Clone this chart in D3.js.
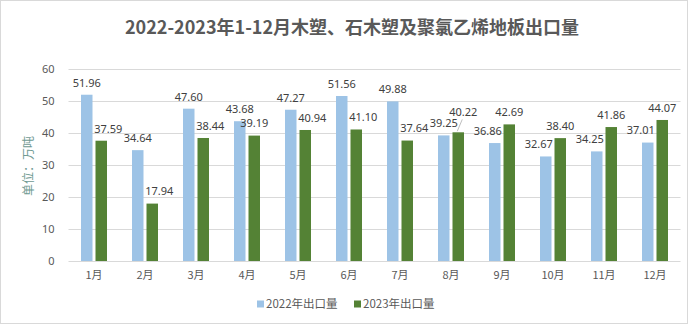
<!DOCTYPE html>
<html>
<head>
<meta charset="utf-8">
<script src="https://cdn.jsdelivr.net/npm/d3@7/dist/d3.min.js"></script>
<style>
  html, body { margin: 0; padding: 0; background: #fff; }
  svg { display: block; }
  text { font-family: "Noto Sans CJK SC", "Noto Sans", sans-serif; }
</style>
</head>
<body>
<svg id="chart" width="688" height="324"></svg>
<script>
// Monthly export volume (10k tonnes)
const months = ["1月","2月","3月","4月","5月","6月","7月","8月","9月","10月","11月","12月"];
const seriesNames = ["2022年出口量", "2023年出口量"];
const exports2022 = [51.96, 34.64, 47.60, 43.68, 47.27, 51.56, 49.88, 39.25, 36.86, 32.67, 34.25, 37.01];
const exports2023 = [37.59, 17.94, 38.44, 39.19, 40.94, 41.10, 37.64, 40.22, 42.69, 38.40, 41.86, 44.07];
const yTicks = [0, 10, 20, 30, 40, 50, 60];

const colors = ["#9dc3e6", "#548235"];
const W = 688, H = 324;
const plot = { left: 68.5, right: 680.5, top: 69, bottom: 261 };

const svg = d3.select("#chart");

// outer frame
svg.append("rect")
  .attr("x", 0.5).attr("y", 0.5)
  .attr("width", W - 1).attr("height", H - 1)
  .attr("fill", "#fff").attr("stroke", "#d9d9d9");

// title
svg.append("text")
  .attr("x", 352).attr("y", 34)
  .attr("text-anchor", "middle")
  .attr("font-size", 18).attr("font-weight", "bold")
  .attr("fill", "#595959")
  .text("2022-2023年1-12月木塑、石木塑及聚氯乙烯地板出口量");

const x = d3.scaleBand().domain(months)
  .range([plot.left, plot.right])
  .paddingInner(25 / 51).paddingOuter(25 / 102);
const xs = d3.scaleBand().domain(seriesNames)
  .range([0, x.bandwidth()])
  .paddingInner(3 / 14.5);
const y = d3.scaleLinear().domain([0, 60]).range([plot.bottom, plot.top]);

// gridlines + y tick labels
const yAxis = d3.axisLeft(y).tickValues(yTicks)
  .tickSize(-(plot.right - plot.left)).tickPadding(14);
const gy = svg.append("g").attr("transform", `translate(${plot.left},0)`).call(yAxis);
gy.select(".domain").remove();
gy.selectAll(".tick line").attr("stroke", "#d9d9d9");
gy.selectAll(".tick text").attr("font-size", 11).attr("fill", "#595959")
  .style("font-family", '"Noto Sans", sans-serif');

// x axis labels
const xAxis = d3.axisBottom(x).tickSize(0).tickPadding(10);
const gx = svg.append("g").attr("transform", `translate(0,${plot.bottom})`).call(xAxis);
gx.select(".domain").remove();
gx.selectAll(".tick text").attr("font-size", 11).attr("fill", "#595959");

// y axis title
svg.append("text")
  .attr("transform", "translate(33,166) rotate(-90)")
  .attr("text-anchor", "middle")
  .attr("font-size", 12).attr("fill", "#6f9a92")
  .text("单位：万吨");

// rows per month
const rows = months.map((m, i) => ({ month: m, vals: [exports2022[i], exports2023[i]] }));

const groups = svg.append("g").selectAll("g").data(rows).join("g")
  .attr("transform", d => `translate(${x(d.month)},0)`);

groups.selectAll("rect").data(d => d.vals.map((v, k) => ({ k, v }))).join("rect")
  .attr("x", d => xs(seriesNames[d.k]))
  .attr("width", xs.bandwidth())
  .attr("y", d => y(d.v))
  .attr("height", d => y(0) - y(d.v))
  .attr("fill", d => colors[d.k]);

// value labels: sit above each bar; the shorter bar's label moves outward
// when it would run into the taller neighbour, and labels that collide
// vertically are stacked with a leader line.
const labelGap = 12, labelShift = 7, stackGap = 11;
rows.forEach(row => {
  const g = groups.filter(d => d === row);
  const tall = row.vals[0] >= row.vals[1] ? 0 : 1;
  const short = 1 - tall;
  const pos = row.vals.map((v, k) => ({
    v,
    cx: xs(seriesNames[k]) + xs.bandwidth() / 2,
    cy: y(v) - labelGap
  }));
  const tallTop = y(row.vals[tall]);
  let leader = null;
  if (Math.abs(pos[0].cy - pos[1].cy) < stackGap) {
    pos[tall].cy = pos[short].cy - stackGap;
    leader = pos[tall];
  } else if (pos[short].cy - 5 > tallTop) {
    pos[short].cx += short === 0 ? -labelShift : labelShift;
  }
  if (leader) {
    g.append("line")
      .attr("x1", leader.cx - 1).attr("y1", y(leader.v) - 1)
      .attr("x2", leader.cx + 4).attr("y2", leader.cy + 7)
      .attr("stroke", "#bfbfbf").attr("stroke-width", 1);
    leader.cx += 5;
  }
  pos.forEach(p => {
    g.append("text")
      .attr("x", p.cx).attr("y", p.cy)
      .attr("dy", "0.35em")
      .attr("text-anchor", "middle")
      .attr("font-size", 11).attr("fill", "#404040")
      .style("font-family", '"Noto Sans", sans-serif')
      .text(p.v.toFixed(2));
  });
});

// legend
const legend = svg.append("g");
const legendX = [257, 354];
seriesNames.forEach((name, k) => {
  legend.append("rect")
    .attr("x", legendX[k]).attr("y", 300.5)
    .attr("width", 7).attr("height", 7)
    .attr("fill", colors[k]);
  legend.append("text")
    .attr("x", legendX[k] + 9).attr("y", 304)
    .attr("dy", "0.35em")
    .attr("font-size", 11.5).attr("fill", "#595959")
    .text(name);
});
</script>
</body>
</html>
